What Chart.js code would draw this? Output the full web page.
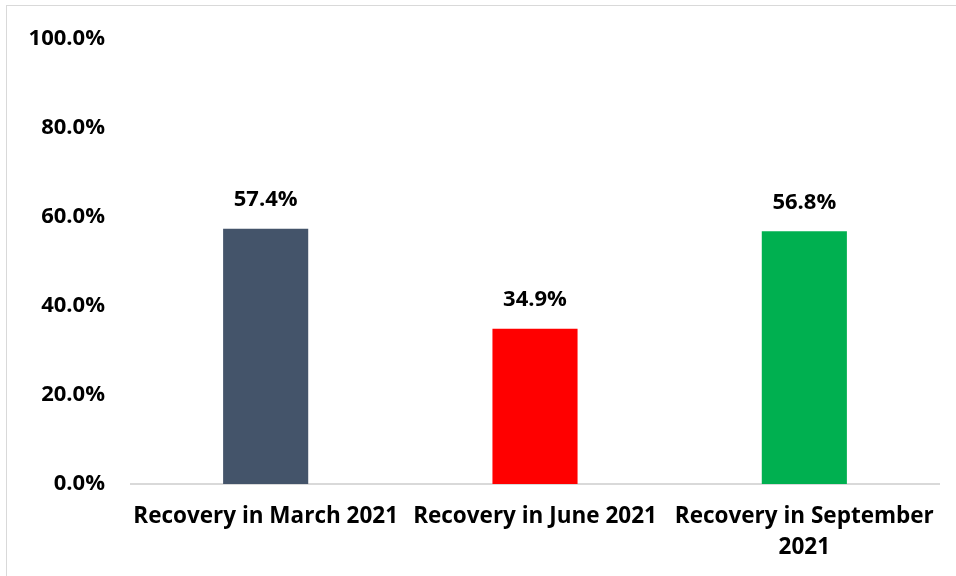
<!DOCTYPE html>
<html>
<head>
<meta charset="utf-8">
<script src="https://cdn.jsdelivr.net/npm/chart.js@4/dist/chart.umd.min.js"></script>
<style>
  html, body { margin: 0; padding: 0; background: #fff; }
  #wrap { position: relative; width: 956px; height: 576px; overflow: hidden; }
  #frame { position: absolute; left: 6px; top: 5px; width: 1000px; height: 1000px;
           border: 1px solid #d9d9d9; box-sizing: border-box; }
  canvas { position: absolute; left: 0; top: 0; }
</style>
</head>
<body>
<div id="wrap">
  <div id="frame"></div>
  <canvas id="c" width="956" height="576"></canvas>
</div>
<script>
// Recovery rates by period
const categories = [
  'Recovery in March 2021',
  'Recovery in June 2021',
  ['Recovery in September', '2021']
];
const recoveryPct = [57.4, 34.9, 56.8];
const barColors = ['#44546A', '#FF0000', '#00B050'];
const yTicks = [0, 20, 40, 60, 80, 100];

const FONT = '"Open Sans", Lato, sans-serif';

// Percent value printed above each bar
const valueLabels = {
  id: 'valueLabels',
  afterDatasetsDraw(chart) {
    const { ctx } = chart;
    const meta = chart.getDatasetMeta(0);
    ctx.save();
    ctx.font = 'bold 22px ' + FONT;
    ctx.fillStyle = '#000';
    ctx.textAlign = 'center';
    ctx.textBaseline = 'middle';
    meta.data.forEach((bar, i) => {
      ctx.fillText(recoveryPct[i].toFixed(1) + '%', bar.x, bar.y - 29);
    });
    ctx.restore();
  }
};

new Chart(document.getElementById('c'), {
  type: 'bar',
  data: {
    labels: categories,
    datasets: [{
      data: recoveryPct,
      backgroundColor: barColors,
      borderWidth: 0,
      categoryPercentage: 1,
      barPercentage: 0.316
    }]
  },
  options: {
    responsive: false,
    animation: false,
    layout: { padding: { top: 38, right: 17, left: 0, bottom: 0 } },
    plugins: { legend: { display: false }, tooltip: { enabled: false } },
    scales: {
      x: {
        grid: { display: false, drawTicks: false },
        border: { display: true, color: '#d9d9d9', width: 2 },
        ticks: {
          color: '#000',
          padding: 17,
          maxRotation: 0,
          autoSkip: false,
          font: { family: FONT, size: 22.5, weight: 'bold', lineHeight: 1.38 }
        },
        afterFit(scale) { scale.height = 92; }
      },
      y: {
        min: 0,
        max: 100,
        afterBuildTicks(scale) { scale.ticks = yTicks.map(v => ({ value: v })); },
        grid: { display: false, drawTicks: false },
        border: { display: false },
        ticks: {
          color: '#000',
          padding: 26,
          font: { family: FONT, size: 22, weight: 'bold' },
          callback: v => v.toFixed(1) + '%'
        },
        afterFit(scale) { scale.width = 131; }
      }
    }
  },
  plugins: [valueLabels]
});
</script>
</body>
</html>
